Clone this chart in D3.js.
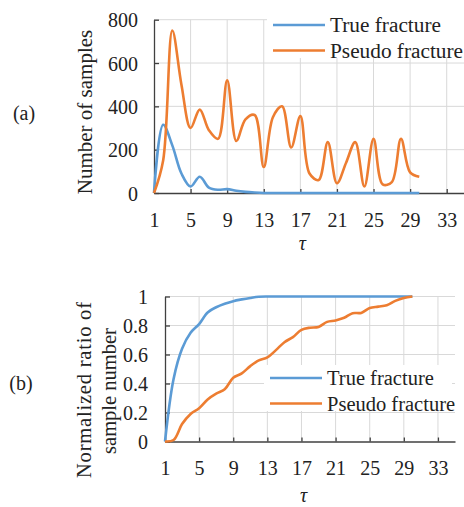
<!DOCTYPE html>
<html>
<head>
<meta charset="utf-8">
<script src="https://cdn.jsdelivr.net/npm/d3@7"></script>
<style>
  body { margin: 0; background: #fff; }
  svg text { font-family: "Liberation Serif", "Times New Roman", Times, "DejaVu Serif", serif !important; fill: #222; }
</style>
</head>
<body>
<div id="chart"></div>
<script>
// tau values (x axis)
var tau = [1,2,3,4,5,6,7,8,9,10,11,12,13,14,15,16,17,18,19,20,21,22,23,24,25,26,27,28,29,30];
// (a) number of samples
var trueCount   = [0,315,220,90,30,75,25,15,18,10,5,2,0,0,0,0,0,0,0,0,0,0,0,0,0,0,0,0,0,0];
var pseudoCount = [0,150,750,500,300,385,290,250,520,240,340,360,120,350,400,210,355,90,60,235,45,140,235,30,250,40,50,250,95,75];
// (b) normalized cumulative ratio
var trueRatio   = [0,0.43,0.64,0.75,0.81,0.89,0.926,0.95,0.968,0.98,0.99,0.998,1,1,1,1,1,1,1,1,1,1,1,1,1,1,1,1,1,1];
var pseudoRatio = [0,0.01,0.12,0.19,0.23,0.29,0.33,0.36,0.44,0.47,0.52,0.56,0.58,0.63,0.685,0.72,0.77,0.785,0.79,0.825,0.835,0.853,0.885,0.887,0.92,0.93,0.94,0.97,0.99,1];

var xTicks = [1,5,9,13,17,21,25,29,33];
var yTicksA = [0,200,400,600,800];
var yTicksB = [0,0.2,0.4,0.6,0.8,1];
var seriesNames = ["True fracture", "Pseudo fracture"];
var colors = ["#5b9bd5", "#ed7d31"];

var width = 464, height = 507;
var svg = d3.select('#chart').append('svg')
    .attr('width', width).attr('height', height);

function panel(cfg) {
  var x = d3.scaleLinear().domain([1, 35]).range([cfg.left, cfg.right]);
  var y = d3.scaleLinear().domain(cfg.yDomain).range([cfg.bottom, cfg.top]);
  var g = svg.append('g');

  // grid
  g.append('g').selectAll('line').data(xTicks.slice(1)).join('line')
    .attr('x1', d => x(d)).attr('x2', d => x(d))
    .attr('y1', cfg.bottom).attr('y2', cfg.top)
    .attr('stroke', '#d9d9d9').attr('stroke-width', 1);
  g.append('g').selectAll('line').data(cfg.yTicks.slice(1)).join('line')
    .attr('x1', cfg.left).attr('x2', cfg.right)
    .attr('y1', d => y(d)).attr('y2', d => y(d))
    .attr('stroke', '#d9d9d9').attr('stroke-width', 1);

  // axes
  g.append('g').attr('transform', `translate(0,${cfg.bottom})`)
    .call(d3.axisBottom(x).tickValues(xTicks).tickSizeInner(-4).tickSizeOuter(0).tickFormat(d3.format('d')))
    .call(a => {
      a.attr('font-family', null);
      a.select('.domain').attr('stroke', '#404040').attr('stroke-width', 1.3);
      a.selectAll('.tick line').attr('stroke', '#404040').attr('stroke-width', 1.3);
      a.selectAll('text').attr('y', cfg.xLabelY - cfg.bottom).attr('dy', '0.35em')
        .style('font-size', '20px').attr('fill', '#222');
    });
  g.append('g').attr('transform', `translate(${cfg.left},0)`)
    .call(d3.axisLeft(y).tickValues(cfg.yTicks).tickSizeInner(-5).tickSizeOuter(0).tickFormat(cfg.yFormat))
    .call(a => {
      a.attr('font-family', null);
      a.select('.domain').attr('stroke', '#404040').attr('stroke-width', 1.3);
      a.selectAll('.tick line').attr('stroke', '#404040').attr('stroke-width', 1.3);
      a.selectAll('text').attr('x', cfg.yLabelRight - cfg.left).attr('dy', '0.35em')
        .style('font-size', '20px').attr('fill', '#222');
    });

  // lines
  var line = d3.line().x((d, i) => x(tau[i])).y(d => y(d)).curve(d3.curveCatmullRom.alpha(0.5));
  cfg.series.forEach(function(s, k) {
    g.append('path').datum(s)
      .attr('fill', 'none').attr('stroke', colors[k]).attr('stroke-width', 2.6)
      .attr('stroke-linejoin', 'round').attr('d', line);
  });

  // legend
  var lg = g.append('g');
  lg.append('rect').attr('x', cfg.legend.x - 6).attr('y', cfg.legend.y - 13)
    .attr('width', cfg.legend.w).attr('height', 46).attr('fill', '#fff');
  seriesNames.forEach(function(name, k) {
    var ly = cfg.legend.y + k * 25.5;
    lg.append('line').attr('x1', cfg.legend.x).attr('x2', cfg.legend.x + 52)
      .attr('y1', ly).attr('y2', ly).attr('stroke', colors[k]).attr('stroke-width', 2.6);
    lg.append('text').attr('x', cfg.legend.x + 57).attr('y', ly).attr('dy', '0.35em')
      .style('font-size', cfg.legend.fs + 'px').text(name);
  });

  // tau
  g.append('text').attr('x', (x(1) + x(33)) / 2 + 2).attr('y', cfg.tauY)
    .attr('text-anchor', 'middle').style('font-size', '20px').style('font-style', 'italic').text('τ');
  return g;
}

panel({
  left: 154, right: 465, top: 19.7, bottom: 193, yDomain: [0, 800], yTicks: yTicksA,
  yFormat: d3.format('d'), xLabelY: 220, yLabelRight: 138, tauY: 250,
  series: [trueCount, pseudoCount], legend: { x: 273, y: 25, w: 200, fs: 21.3 }
});
panel({
  left: 165, right: 455, top: 296.5, bottom: 441.5, yDomain: [0, 1], yTicks: yTicksB,
  yFormat: d => d === 0 || d === 1 ? String(d) : d.toFixed(1), xLabelY: 468, yLabelRight: 148, tauY: 502,
  series: [trueRatio, pseudoRatio], legend: { x: 270, y: 378, w: 188, fs: 20.5 }
});

// side labels
svg.append('text').attr('transform', 'translate(85,112) rotate(-90)')
  .attr('text-anchor', 'middle').attr('dy', '0.35em').style('font-size', '21px').text('Number of samples');
svg.append('text').attr('transform', 'translate(84,390) rotate(-90)')
  .attr('text-anchor', 'middle').attr('dy', '0.35em').style('font-size', '20.5px')
  .attr('textLength', 176).attr('lengthAdjust', 'spacing').text('Normalized ratio of');
svg.append('text').attr('transform', 'translate(109,391) rotate(-90)')
  .attr('text-anchor', 'middle').attr('dy', '0.35em').style('font-size', '20.5px').text('sample number');
svg.append('text').attr('x', 24).attr('y', 113).attr('text-anchor', 'middle').attr('dy', '0.35em')
  .style('font-size', '20px').text('(a)');
svg.append('text').attr('x', 21).attr('y', 383).attr('text-anchor', 'middle').attr('dy', '0.35em')
  .style('font-size', '20px').text('(b)');
</script>
</body>
</html>
